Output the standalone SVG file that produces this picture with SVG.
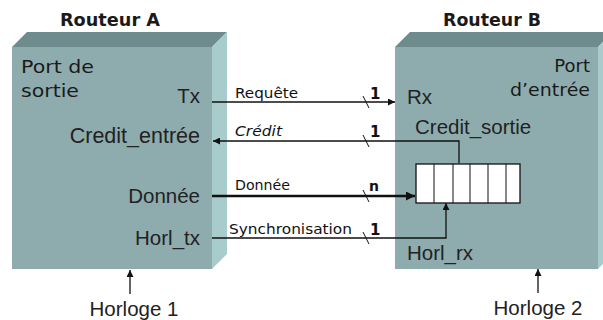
<svg xmlns="http://www.w3.org/2000/svg" width="603" height="320" viewBox="0 0 603 320">
<defs>
<marker id="ah" viewBox="0 0 10 10" refX="10" refY="5" markerWidth="7" markerHeight="7" markerUnits="userSpaceOnUse" orient="auto"><path d="M0,0 L10,5 L0,10 z" fill="#111"/></marker>
<marker id="ahb" viewBox="0 0 10 10" refX="10" refY="5" markerWidth="9" markerHeight="9" markerUnits="userSpaceOnUse" orient="auto"><path d="M0,0 L10,5 L0,10 z" fill="#111"/></marker>
</defs>
<style>
.front{fill:#8eacae}
.top{fill:#6e8c8e}
.side{fill:#a8cbcc}
.comic{font-family:"DejaVu Sans",sans-serif;fill:#1a1a1a}
.arial{font-family:"Liberation Sans",Arial,sans-serif;fill:#222;font-size:20.5px}
.lbl{font-family:"DejaVu Sans",sans-serif;font-size:13.5px;fill:#111}
.num{font-family:"DejaVu Sans",sans-serif;font-size:15px;font-weight:bold;fill:#111}
.ln{stroke:#111;stroke-width:1.3;fill:none}
.sl{stroke:#111;stroke-width:1;fill:none}
</style>
<rect width="603" height="320" fill="#fff"/>
<g id="routeurA">
<polygon class="top" points="12,47 27,32 227,32 212,47"/>
<polygon class="side" points="212,47 227,32 227,254 212,269"/>
<rect class="front" x="12" y="47" width="200" height="222"/>
<text class="comic" x="60" y="26" font-size="18" font-weight="600" textLength="100" lengthAdjust="spacingAndGlyphs">Routeur A</text>
<text class="comic" x="21" y="73" font-size="18" textLength="73" lengthAdjust="spacingAndGlyphs">Port de</text>
<text class="comic" x="21" y="97" font-size="18" textLength="58" lengthAdjust="spacingAndGlyphs">sortie</text>
<text class="arial" x="200" y="103" text-anchor="end">Tx</text>
<text class="arial" x="200" y="143" text-anchor="end" style="font-size:21.5px">Credit_entrée</text>
<text class="arial" x="200" y="203" text-anchor="end">Donnée</text>
<text class="arial" x="200" y="245" text-anchor="end">Horl_tx</text>
</g>
<g id="routeurB">
<polygon class="top" points="395,47 410,32 613,32 598,47"/>
<polygon class="side" points="598,47 613,32 613,254 598,269"/>
<rect class="front" x="395" y="47" width="203" height="222"/>
<text class="comic" x="443" y="26" font-size="18" font-weight="600" textLength="98" lengthAdjust="spacingAndGlyphs">Routeur B</text>
<text class="comic" x="590" y="72" font-size="18" text-anchor="end">Port</text>
<text class="comic" x="590" y="96" font-size="18" text-anchor="end" textLength="80" lengthAdjust="spacingAndGlyphs">d’entrée</text>
<text class="arial" x="407" y="104">Rx</text>
<text class="arial" x="415" y="134">Credit_sortie</text>
<text class="arial" x="407" y="260">Horl_rx</text>
</g>
<g id="fifo">
<rect x="416" y="164" width="104" height="39" fill="#fff" stroke="#111" stroke-width="1.3"/>
<path class="sl" d="M434,164V203M453,164V203M470,164V203M488,164V203M506,164V203"/>
</g>
<g id="horloge1">
<text class="arial" x="134" y="316" text-anchor="middle">Horloge 1</text>
</g>
<g id="horloge2">
<text class="arial" x="538" y="315" text-anchor="middle">Horloge 2</text>
</g>
<g id="connectors">
<line class="ln" x1="212" y1="102" x2="395" y2="102" marker-end="url(#ah)"/>
<path class="ln" d="M459,163V141H213" marker-end="url(#ah)"/>
<line x1="212" y1="196" x2="415" y2="196" stroke="#111" stroke-width="2.4" marker-end="url(#ahb)"/>
<path class="ln" d="M212,238H446V203" marker-end="url(#ah)"/>
<line class="ln" x1="130" y1="294" x2="130" y2="270" marker-end="url(#ah)"/>
<line class="ln" x1="538" y1="293" x2="538" y2="269" marker-end="url(#ah)"/>
<path class="sl" d="M363,96L369,108M363,135L369,147M363,190L369,202M363,232L369,244"/>
<text class="lbl" x="235" y="98" textLength="63" lengthAdjust="spacingAndGlyphs">Requête</text>
<text class="lbl" x="235" y="136" font-style="italic" textLength="47" lengthAdjust="spacingAndGlyphs">Crédit</text>
<text class="lbl" x="235" y="190" textLength="55" lengthAdjust="spacingAndGlyphs">Donnée</text>
<text class="lbl" x="229" y="234" textLength="123" lengthAdjust="spacingAndGlyphs">Synchronisation</text>
<text class="num" x="370" y="99">1</text>
<text class="num" x="370" y="137">1</text>
<text class="num" x="369" y="191" style="font-size:14px">n</text>
<text class="num" x="370" y="235">1</text>
</g>
</svg>
